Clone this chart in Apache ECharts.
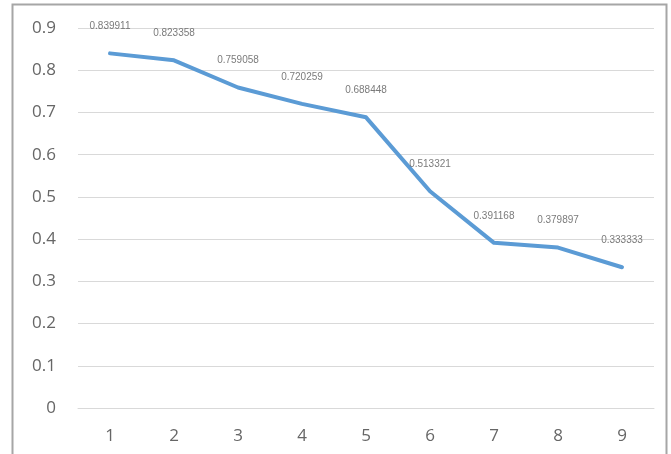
<!DOCTYPE html>
<html>
<head>
<meta charset="utf-8">
<script src="https://cdn.jsdelivr.net/npm/echarts@6/dist/echarts.min.js"></script>
<style>
  html, body { margin: 0; padding: 0; background: #ffffff; }
  #chart { width: 671px; height: 454px; }
</style>
</head>
<body>
<div id="chart"></div>
<script>
// Category labels along the x axis
const categories = ['1', '2', '3', '4', '5', '6', '7', '8', '9'];
// Series values, one per category
const values = [0.839911, 0.823358, 0.759058, 0.720259, 0.688448, 0.513321, 0.391168, 0.379897, 0.333333];
// Y axis range and step
const yMin = 0;
const yMax = 0.9;
const yStep = 0.1;

const chart = echarts.init(document.getElementById('chart'), null, { renderer: 'canvas' });

chart.setOption({
  backgroundColor: '#ffffff',
  animation: false,
  graphic: [{
    type: 'rect',
    shape: { x: 12.5, y: 4.5, width: 654, height: 460 },
    style: { fill: 'none', stroke: '#a6a6a6', lineWidth: 2 },
    silent: true
  }],
  grid: { left: 78, right: 17, top: 28, bottom: 46 },
  xAxis: {
    type: 'category',
    data: categories,
    boundaryGap: true,
    axisLine: { show: true, lineStyle: { color: '#d9d9d9', width: 1 } },
    axisTick: { show: false },
    axisLabel: { color: '#666666', fontSize: 17, fontFamily: 'Open Sans, Liberation Sans, sans-serif', margin: 20 }
  },
  yAxis: {
    type: 'value',
    min: yMin,
    max: yMax,
    interval: yStep,
    axisLine: { show: false },
    axisTick: { show: false },
    splitLine: { lineStyle: { color: '#d9d9d9', width: 1 } },
    axisLabel: {
      color: '#666666', fontSize: 17, fontFamily: 'Open Sans, Liberation Sans, sans-serif', margin: 22,
      formatter: v => String(Math.round(v * 10) / 10)
    }
  },
  series: [{
    type: 'line',
    data: values,
    symbol: 'none',
    lineStyle: { color: '#5b9bd5', width: 4, cap: 'round', join: 'round' },
    z: 2
  }, {
    // value labels drawn above each point of the line
    type: 'scatter',
    data: values,
    symbolSize: 0,
    itemStyle: { color: 'transparent' },
    label: {
      show: true,
      position: 'top',
      distance: 22,
      color: '#595959',
      fontSize: 10,
      fontFamily: 'Liberation Sans, Arial, sans-serif',
      formatter: p => String(p.value)
    },
    z: 3
  }]
});
</script>
</body>
</html>
